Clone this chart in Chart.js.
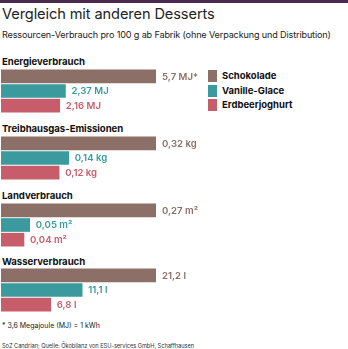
<!DOCTYPE html>
<html>
<head>
<meta charset="utf-8">
<script src="https://cdn.jsdelivr.net/npm/chart.js@4"></script>
<style>
  body { margin: 0; width: 348px; height: 349px; background: #fff; position: relative; overflow: hidden; font-family: Inter, 'Noto Sans', sans-serif; color: #222; }
  .topline { position: absolute; left: 0; top: 0; width: 348px; height: 3px; background: #4b2a52; }
  .t { position: absolute; left: 2px; white-space: nowrap; }
  #title { top: 5px; font-size: 14.6px; font-weight: 400; color: #222; letter-spacing: -0.1px; }
  #sub { top: 29px; font-size: 9.1px; color: #222; letter-spacing: -0.15px; }
  .sec { font-size: 9.6px; font-weight: 700; color: #111; letter-spacing: -0.05px; }
  .wrap { position: absolute; left: 0; width: 348px; height: 44px; }
  #legend { position: absolute; left: 208px; top: 70px; font-size: 9.5px; font-weight: 700; color: #111; }
  #legend div { height: 14.5px; line-height: 12px; display: flex; align-items: flex-start; }
  #legend span.sw { display: inline-block; width: 9px; height: 12px; margin-right: 5px; }
  #note { top: 321px; font-size: 7px; color: #222; }
  #src { top: 342px; font-size: 5.7px; color: #333; letter-spacing: -0.05px; }
</style>
</head>
<body>
<div class="topline"></div>
<div class="t" id="title">Vergleich mit anderen Desserts</div>
<div class="t" id="sub">Ressourcen-Verbrauch pro 100 g ab Fabrik (ohne Verpackung und Distribution)</div>
<div id="legend"></div>
<div class="t" id="note">* 3,6 Megajoule (MJ) = 1 kWh</div>
<div class="t" id="src">SoZ Candrian; Quelle: Ökobilanz von ESU-services GmbH, Schaffhausen</div>
<script>
var desserts = ['Schokolade', 'Vanille-Glace', 'Erdbeerjoghurt'];
var groupTitles = ['Energieverbrauch', 'Treibhausgas-Emissionen', 'Landverbrauch', 'Wasserverbrauch'];
var units = ['MJ', 'kg', 'm²', 'l'];
var energie = [5.7, 2.37, 2.16];
var treibhaus = [0.32, 0.14, 0.12];
var land = [0.27, 0.05, 0.04];
var wasser = [21.2, 11.1, 6.8];
var energieMarks = ['*', '', ''];

var colors = ['#8c6f67', '#3a9a9d', '#c75d6b'];
var series = [energie, treibhaus, land, wasser];
var marks = [energieMarks, ['', '', ''], ['', '', ''], ['', '', '']];
var titleTops = [56, 123, 190, 256];
var chartTops = [69, 136, 203, 268];

// legend
var lg = document.getElementById('legend');
desserts.forEach(function (d, i) {
  var row = document.createElement('div');
  row.innerHTML = '<span class="sw" style="background:' + colors[i] + '"></span>' + d;
  lg.appendChild(row);
});

function fmt(v) {
  return String(v).replace('.', ',');
}

var valueLabels = {
  id: 'valueLabels',
  afterDatasetsDraw: function (chart, args, opts) {
    var ctx = chart.ctx;
    var meta = chart.getDatasetMeta(0);
    ctx.save();
    ctx.font = '600 9.6px Inter, sans-serif';
    ctx.textBaseline = 'middle';
    meta.data.forEach(function (bar, i) {
      ctx.fillStyle = colors[i];
      var txt = fmt(opts.values[i]) + ' ' + opts.unit + opts.marks[i];
      ctx.fillText(txt, bar.x + 6, bar.y + 0.5);
    });
    ctx.restore();
  }
};

series.forEach(function (vals, g) {
  var h = document.createElement('div');
  h.className = 't sec';
  h.style.top = titleTops[g] + 'px';
  h.textContent = groupTitles[g];
  document.body.appendChild(h);

  var w = document.createElement('div');
  w.className = 'wrap';
  w.style.top = chartTops[g] + 'px';
  var cv = document.createElement('canvas');
  w.appendChild(cv);
  document.body.appendChild(w);

  new Chart(cv, {
    type: 'bar',
    data: {
      labels: desserts,
      datasets: [{
        data: vals,
        backgroundColor: colors,
        barThickness: 13,
        borderWidth: 0
      }]
    },
    options: {
      indexAxis: 'y',
      responsive: true,
      maintainAspectRatio: false,
      animation: false,
      events: [],
      layout: { padding: { left: 1, right: 192, top: 0, bottom: 0 } },
      plugins: {
        legend: { display: false },
        tooltip: { enabled: false },
        valueLabels: { values: vals, unit: units[g], marks: marks[g] }
      },
      scales: {
        x: { display: false, min: 0, max: Math.max.apply(null, vals) },
        y: { display: false }
      }
    },
    plugins: [valueLabels]
  });
});
</script>
</body>
</html>
